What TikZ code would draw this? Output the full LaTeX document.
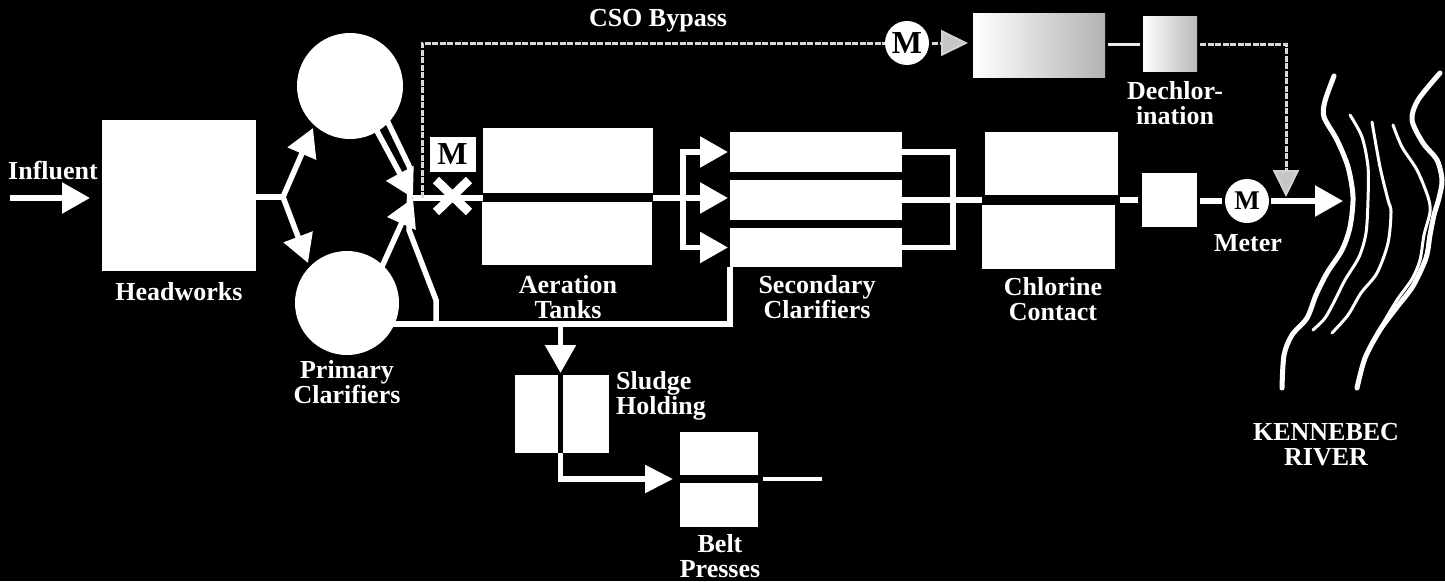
\documentclass[tikz,border=0pt]{standalone}
\usepackage{fontspec}
\setmainfont{Liberation Serif}
\usetikzlibrary{arrows.meta}
\begin{document}
\begin{tikzpicture}[x=1pt,y=-1pt,
  box/.style={fill=white, draw=none, inner sep=0pt, outer sep=0pt, rectangle},
  disc/.style={fill=white, draw=none, circle, inner sep=0pt, outer sep=0pt},
  flow/.style={draw=white, line width=5.5pt},
  flowarrow/.style={flow, -{Triangle[length=28pt,width=30pt]}},
  bypass/.style={draw=white!70!gray, line width=3pt, dash pattern=on 6pt off 1.5pt},
  bypassarrow/.style={bypass, -{Triangle[length=27pt,width=26pt,fill=gray!45,color=white!65!gray,line width=2pt]}},
  lbl/.style={text=white, font=\fontsize{26}{25}\selectfont\bfseries, align=center, inner sep=0pt},
  mbig/.style={text=black, font=\fontsize{32}{32}\selectfont\bfseries},
  mmid/.style={text=black, font=\fontsize{27}{27}\selectfont\bfseries},
  river/.style={draw=white, line width=5pt, line cap=round, line join=round},
  riverthin/.style={draw=white, line width=3pt, line cap=round, line join=round}
]
\useasboundingbox (0,0) rectangle (1445,581);
\fill[black] (0,0) rectangle (1445,581);

% ---------- nodes ----------
\node[box, minimum width=154pt, minimum height=151pt] (hw) at (179,195.5) {};
\node[disc, minimum size=106pt] (pc1) at (350,86) {};
\node[disc, minimum size=104pt] (pc2) at (347,303) {};
\node[box, mbig, minimum width=46pt, minimum height=35pt] (mbox) at (452.5,154.5) {M};
\node[box, minimum width=170pt, minimum height=65pt] (at1) at (568,160.5) {};
\node[box, minimum width=170pt, minimum height=63pt] (at2) at (567,233.5) {};
\node[box, minimum width=172pt, minimum height=40pt] (sc1) at (816,152) {};
\node[box, minimum width=172pt, minimum height=40pt] (sc2) at (816,200) {};
\node[box, minimum width=172pt, minimum height=39pt] (sc3) at (816,247.5) {};
\node[box, minimum width=133pt, minimum height=63pt] (cc1) at (1051.5,163.5) {};
\node[box, minimum width=133pt, minimum height=64pt] (cc2) at (1048.5,237) {};
\node[box, minimum width=55pt, minimum height=54pt] (sb) at (1169.5,200) {};
\node[disc, mmid, minimum size=44pt] (mt) at (1247,201) {M};
\node[disc, mbig, minimum size=44pt] (bm) at (907,43) {M};
\node[left color=white, right color=gray!60, draw=none, inner sep=0pt, outer sep=0pt,
      minimum width=132pt, minimum height=64pt] (gb) at (1039,45) {};
\node[left color=white, right color=gray!55, draw=none, inner sep=0pt, outer sep=0pt,
      minimum width=54pt, minimum height=55pt] (db) at (1170,44) {};
\node[box, minimum width=43pt, minimum height=78pt] (sh1) at (536.5,414) {};
\node[box, minimum width=46pt, minimum height=78pt] (sh2) at (586,414) {};
\node[box, minimum width=78pt, minimum height=43pt] (bp1) at (719,453.5) {};
\node[box, minimum width=78pt, minimum height=44pt] (bp2) at (719,505) {};

% ---------- labels ----------
\node[lbl] (linf) at (53,171) {Influent};
\node[lbl] (lhw) at (179,292) {Headworks};
\node[lbl] (lpc) at (347,382) {Primary\\Clarifiers};
\node[lbl] (lat) at (568,297) {Aeration\\Tanks};
\node[lbl] (lsc) at (817,297) {Secondary\\Clarifiers};
\node[lbl] (lcc) at (1053,299) {Chlorine\\Contact};
\node[lbl] (lmt) at (1248,243) {Meter};
\node[lbl] (ldc) at (1175,103) {Dechlor-\\ination};
\node[lbl] (lcso) at (658,21) {CSO Bypass};
\node[lbl, anchor=west, align=left] (lsh) at (616,396) {Sludge\\Holding};
\node[lbl] (lbp) at (720,556) {Belt\\Presses};
\node[lbl] (lkr) at (1326,445) {KENNEBEC\\RIVER};

% ---------- coordinates ----------
\coordinate (inf) at (10,198);
\coordinate (j1) at (283,197);
\coordinate (t1) at (313,128);
\coordinate (t2) at (308,263);
\coordinate (la0) at (370,118);
\coordinate (jn) at (413,198);
\coordinate (lc0) at (380,271);
\coordinate (lb0) at (383,112);
\coordinate (lb1) at (410,168);
\coordinate (lb2) at (409,230);
\coordinate (lb3) at (436,300);
\coordinate (byp) at (422,198);
\coordinate (bytop) at (422,43);
\coordinate (m1) at (683,198);
\coordinate (m2) at (953,200);
\coordinate (s0) at (392,324);
\coordinate (sd) at (560.5,324);
\coordinate (bpmid) at (680,479);
\coordinate (bo) at (822,479);
\coordinate (rv) at (1343,201);
\coordinate (dcorner) at (1286,44);
\coordinate (dtip) at (1286,197);

% ---------- main flow ----------
\draw[flowarrow, shorten >=12pt] (inf) -- (hw.west |- inf);
\draw[flow] (hw.east |- j1) -- (j1);
\draw[flowarrow] (j1) -- (t1);
\draw[flowarrow] (j1) -- (t2);
\draw[flowarrow] (la0) -- (jn);
\draw[flowarrow] (lc0) -- (jn);
\draw[flow] (jn) -- (at1.west |- jn);
\draw[flowarrow, shorten >=2pt] (at1.east |- jn) -- (sc2.west |- jn);
\draw[flowarrow, shorten >=2pt] (m1) -- (m1 |- sc1.west) -- (sc1.west);
\draw[flowarrow, shorten >=2pt] (m1) -- (m1 |- sc3.west) -- (sc3.west);
\draw[flow] (sc1.east) -- (m2 |- sc1.east) -- (m2 |- sc3.east) -- (sc3.east);
\draw[flow] (sc2.east) -- (cc2.west |- sc2.east);
\draw[flow, shorten <=2pt, shorten >=4pt] (cc1.east |- sb.west) -- (sb.west);
\draw[flow, shorten <=3pt, shorten >=3pt] (sb.east |- mt.west) -- (mt.west);
\draw[flowarrow, shorten <=2pt] (mt.east) -- (rv);

% ---------- sludge ----------
\draw[flow] (lb0) -- (lb1) -- (lb2) -- (lb3) -- (lb3 |- s0);
\draw[flow] (s0) -- (sc3.south west |- s0) -- (sc3.south west);
\draw[flowarrow, shorten >=2pt] (sd) -- (sd |- sh1.north);
\draw[flowarrow, shorten >=7pt, -{Triangle[length=28pt,width=27pt]}] (sd |- sh1.south) -- (sd |- bpmid) -- (bpmid);
\draw[flow, line width=4.5pt, shorten <=5pt] (bp1.east |- bo) -- (bo);

% ---------- valve X ----------
\draw[white, line width=9pt] (436,180) -- (469,212) (469,180) -- (436,212);

% ---------- CSO bypass ----------
\draw[bypass] (byp) -- (bytop) -- (bm.west);
\draw[bypassarrow, shorten <=3pt, shorten >=5pt] (bm.east) -- (gb.west |- bm.east);
\draw[draw=white!85!gray, line width=3pt, shorten <=3pt, shorten >=3pt] (gb.east |- db.west) -- (db.west);
\draw[bypassarrow, shorten <=3pt] (db.east) -- (dcorner) -- (dtip);

% ---------- river ----------
\draw[river] plot[smooth] coordinates {(1334,76) (1325,101) (1324,117) (1337,140) (1348,167) (1353,197) (1350,227) (1342,250) (1327,273) (1316,295) (1307,318) (1292,335) (1284,355) (1282,388)};
\draw[riverthin] plot[smooth] coordinates {(1350,115) (1362,137) (1368,167) (1368,200) (1366,233) (1359,257) (1345,280) (1335,300) (1325,318) (1313,330)};
\draw[riverthin] plot[smooth] coordinates {(1372,122) (1380,167) (1388,200) (1391,212) (1388,243) (1377,273) (1361,293) (1348,315) (1332,333)};
\draw[riverthin] plot[smooth] coordinates {(1393,125) (1402,147) (1417,170) (1428,197) (1430,212) (1424,235) (1420,260) (1412,279) (1397,300) (1382,325) (1377,333)};
\draw[river] plot[smooth] coordinates {(1440,73) (1418,100) (1412,120) (1423,143) (1437,160) (1442,180) (1439,198) (1434,215) (1430,235) (1426,258) (1413,286) (1397,307) (1380,330) (1365,358) (1357,388)};
\end{tikzpicture}
\end{document}
